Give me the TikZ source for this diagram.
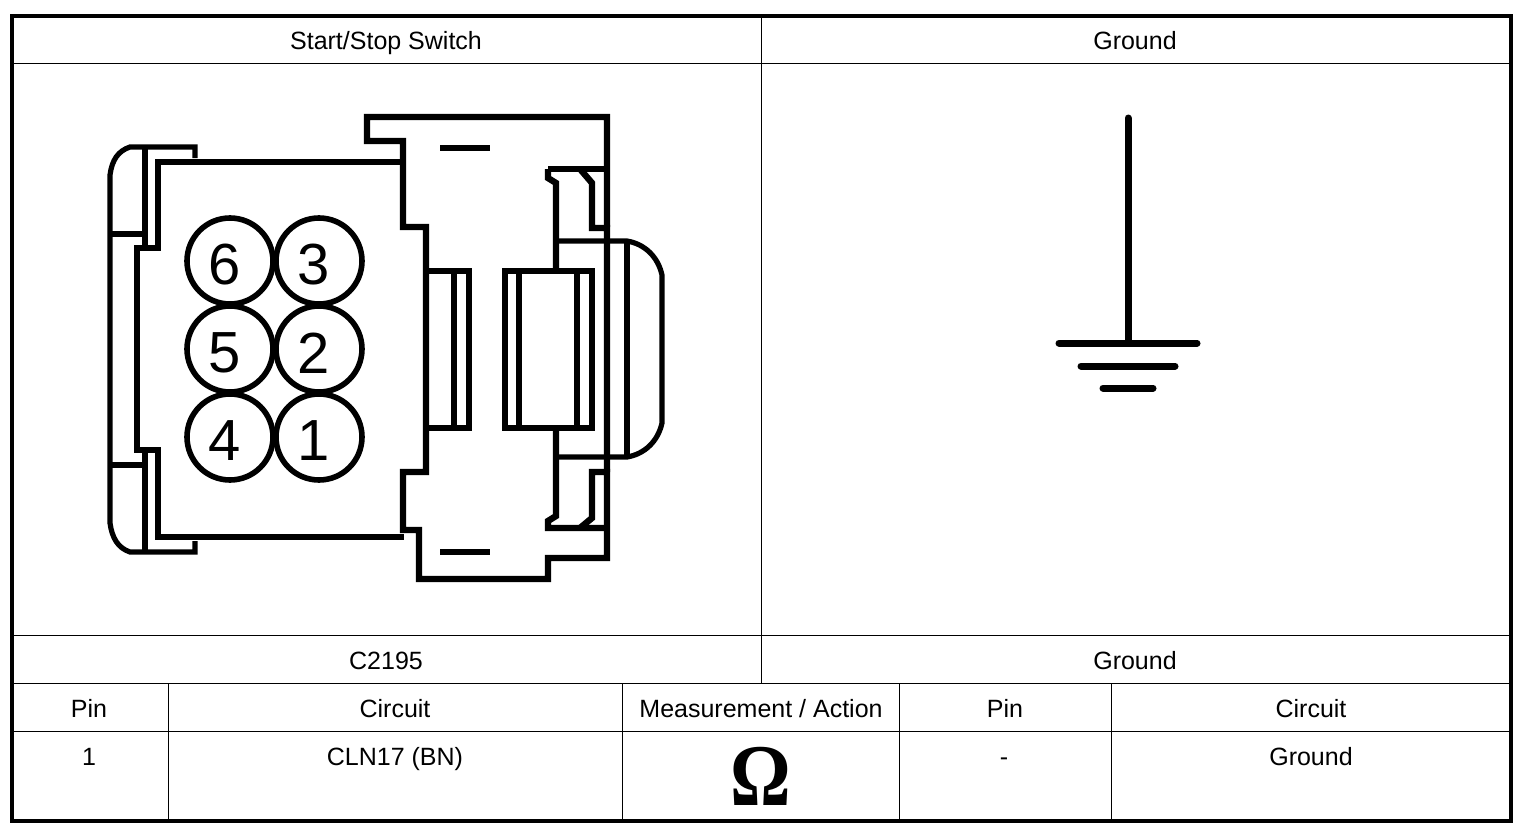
\documentclass[tikz,border=0pt]{standalone}
\usepackage{fontspec}
\setmainfont{Liberation Sans}
\newfontfamily\omegafont{Liberation Serif}
\usepackage{tikz}

\tikzset{
  cell/.style={anchor=base,inner sep=0pt,font=\fontsize{12.5}{14}\selectfont},
  pinnum/.style={inner sep=0pt,font=\fontsize{29}{32}\selectfont},
  pinring/.style={line width=2.8pt},
  thickline/.style={line width=3.2pt,line join=miter},
  midline/.style={line width=2.6pt,line join=miter},
  grid/.style={line width=0.45pt},
}

\begin{document}
\begin{tikzpicture}[x=0.5pt,y=-0.5pt]
\useasboundingbox (0,0) rectangle (1526,830);

% table
\draw[line width=2pt] (12,16) rectangle (1511,821);
\draw[grid] (12,63) -- (1511,63);
\draw[grid] (12,635) -- (1511,635);
\draw[grid] (12,683) -- (1511,683);
\draw[grid] (12,731) -- (1511,731);
\draw[grid] (761,16) -- (761,683);
\foreach \x in {168,622,899,1111}
  \draw[grid] (\x,683) -- (\x,821);

% texts
\node[cell] (switch) at (386,49) {Start/Stop Switch};
\node[cell] (groundtop) at (1135,49) {Ground};
\node[cell] (conn) at (386,669) {C2195};
\node[cell] (groundname) at (1135,669) {Ground};
\node[cell] (pinA) at (89,717) {Pin};
\node[cell] (circuitA) at (395,717) {Circuit};
\node[cell] (action) at (761,717) {Measurement / Action};
\node[cell] (pinB) at (1005,717) {Pin};
\node[cell] (circuitB) at (1311,717) {Circuit};
\node[cell] (pinone) at (89,765) {1};
\node[cell] (cln) at (395,765) {CLN17 (BN)};
\node[cell] (dash) at (1004,765) {-};
\node[cell] (groundcell) at (1311,765) {Ground};
\node[anchor=base,inner sep=0pt,font=\omegafont\bfseries\fontsize{44}{48}\selectfont] (ohm) at (761,805) {\scalebox{0.86}[1]{Ω}};

% ground symbol
\draw[line width=3.5pt,line cap=round] (1128,118) -- (1128,343);
\draw[line width=3.5pt,line cap=round] (1059,343) -- (1197,343);
\draw[line width=3.5pt,line cap=round] (1081,366) -- (1175,366);
\draw[line width=3.5pt,line cap=round] (1103,388) -- (1153,388);

% connector, pins
\foreach \n/\x/\y in {6/230/261,3/319/261,5/230/349,2/319/349,4/230/437,1/319/437}{
  \draw[pinring] (\x,\y) circle (43);
  \node[pinnum] (pin\n) at (\x-5,\y+4) {\n};
}

% connector, left shell
\draw[midline] (195,158) -- (195,147) -- (130,147) .. controls (118,151) and (112,160) .. (110,175)
  -- (110,523) .. controls (112,538) and (118,548) .. (130,552) -- (195,552) -- (195,541);
\draw[midline] (110,234) -- (145,234);
\draw[midline] (110,465) -- (145,465);
\draw[thickline] (145,147) -- (145,248);
\draw[thickline] (145,450) -- (145,552);
\draw[thickline] (404,162) -- (158,162) -- (158,248) -- (137,248) -- (137,450) -- (158,450) -- (158,537) -- (404,537);

% connector, outline of the housing
\draw[thickline] (548,169) -- (607,169);
\draw[thickline] (607,227) -- (607,117) -- (367,117) -- (367,141) -- (403,141) -- (403,227) -- (426,227)
  -- (426,472) -- (403,472) -- (403,530) -- (419,530) -- (419,579) -- (548,579) -- (548,558) -- (607,558)
  -- (607,472) -- (592,472) -- (592,518) -- (580,528);
\draw[thickline] (607,472) -- (607,228) -- (592,228) -- (592,183) -- (580,169);
\draw[thickline] (556,271) -- (556,183) -- (548,178) -- (548,169);
\draw[thickline] (556,428) -- (556,516) -- (548,521) -- (548,528) -- (607,528);

% connector, latch
\draw[midline] (556,241) -- (627,241) .. controls (645,244) and (658,257) .. (662,275)
  -- (662,423) .. controls (658,441) and (645,454) .. (627,457) -- (556,457);
\draw[midline] (627,241) -- (627,457);

% connector, middle windows
\draw[thickline] (426,271) -- (469,271) -- (469,428) -- (426,428);
\draw[midline] (454,271) -- (454,428);
\draw[thickline] (505,271) rectangle (592,428);
\draw[midline] (519,271) -- (519,428);
\draw[midline] (577,271) -- (577,428);

% connector, marks
\draw[thickline] (440,148) -- (490,148);
\draw[thickline] (440,552) -- (490,552);

\end{tikzpicture}
\end{document}
